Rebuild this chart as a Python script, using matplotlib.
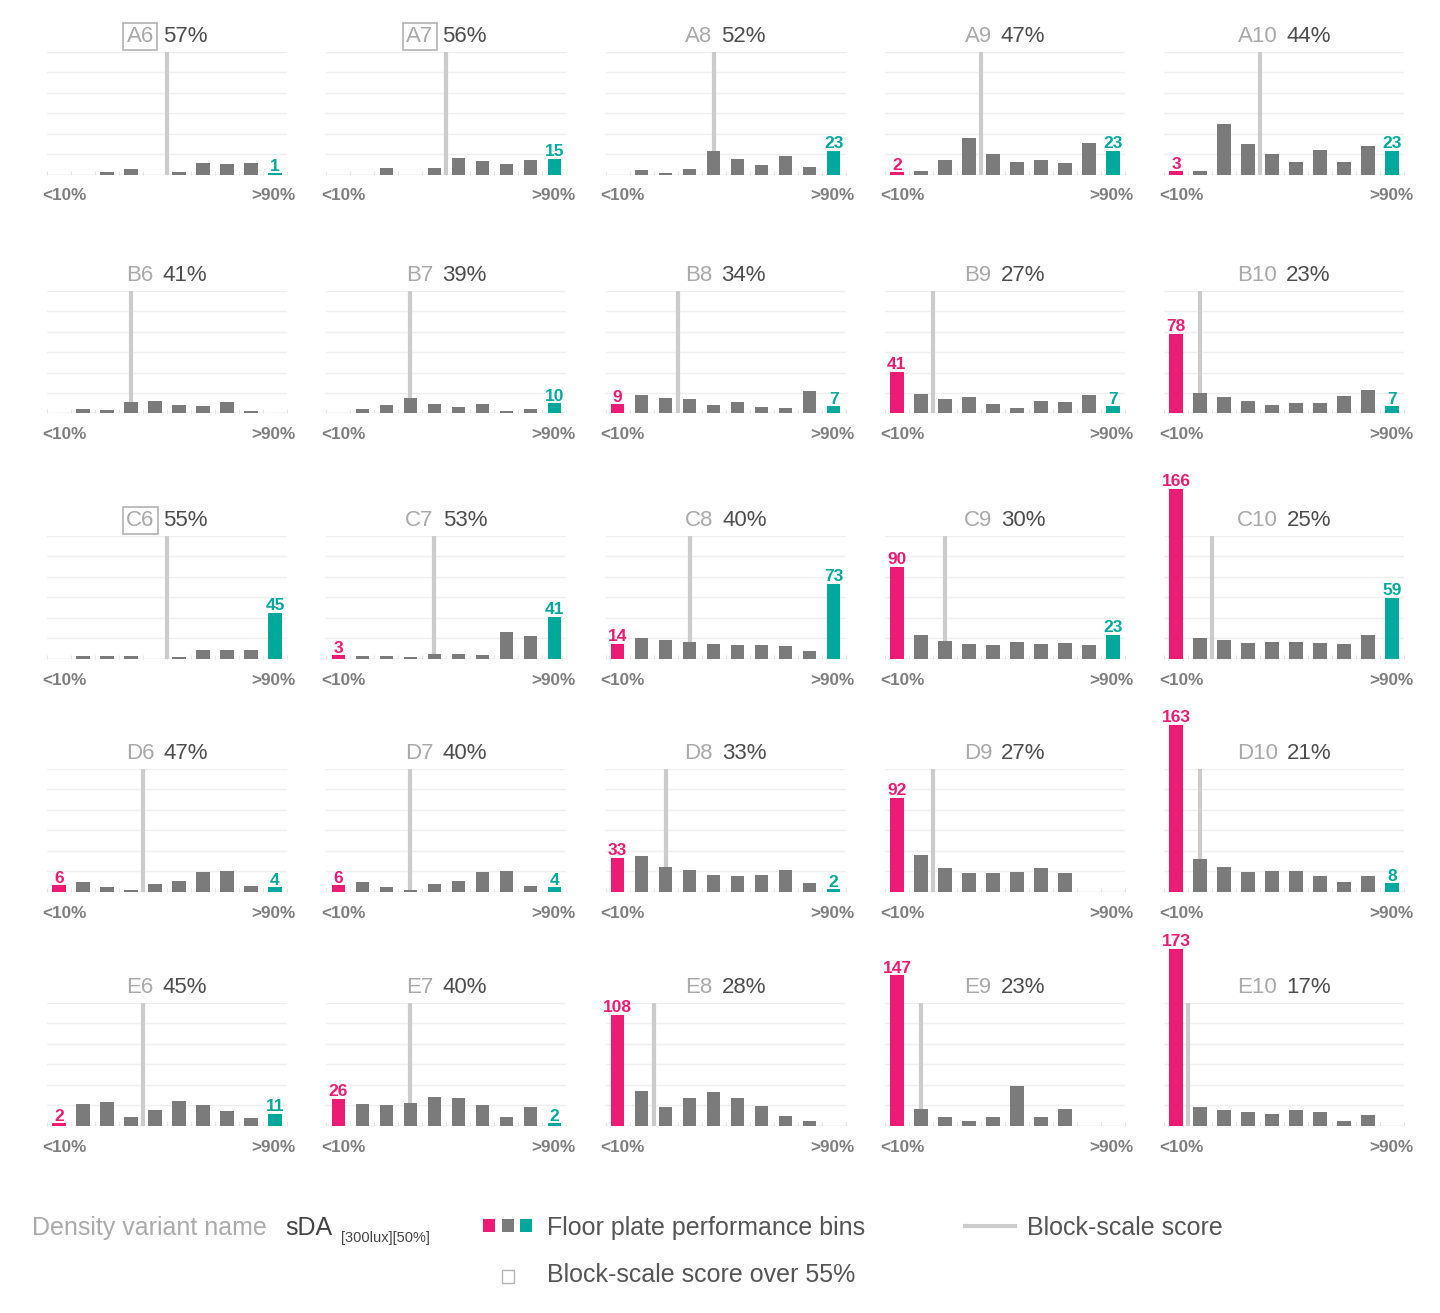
import matplotlib
matplotlib.use('Agg')
import matplotlib.pyplot as plt
from matplotlib.patches import Rectangle
from matplotlib.lines import Line2D
import numpy as np

plt.rcParams['font.family'] = ['Liberation Sans', 'DejaVu Sans']

W, H = 1440, 1313

rows = ['A', 'B', 'C', 'D', 'E']
cols = [6, 7, 8, 9, 10]

# block-scale sDA score of each density variant (%)
scores = [[57, 56, 52, 47, 44],
          [41, 39, 34, 27, 23],
          [55, 53, 40, 30, 25],
          [47, 40, 33, 27, 21],
          [45, 40, 28, 23, 17]]

# number of floor plates per sDA bin: <10%, 10-20%, ... , >90%
bins_A = [[0, 0, 2, 5, 0, 2, 11, 10, 11, 1],
          [0, 0, 6, 0, 6, 16, 13, 10, 14, 15],
          [0, 4, 1, 5, 23, 15, 9, 18, 7, 23],
          [2, 3, 14, 36, 20, 12, 14, 11, 31, 23],
          [3, 3, 49, 30, 20, 12, 24, 12, 28, 23]]
bins_B = [[0, 4, 3, 11, 12, 8, 7, 11, 2, 0],
          [0, 4, 8, 15, 9, 6, 9, 2, 4, 10],
          [9, 18, 15, 14, 8, 11, 6, 5, 22, 7],
          [41, 19, 14, 16, 9, 5, 12, 11, 18, 7],
          [78, 20, 16, 12, 8, 10, 10, 17, 23, 7]]
bins_C = [[0, 2, 2, 2, 0, 1, 8, 8, 8, 45],
          [3, 2, 2, 1, 4, 4, 3, 26, 22, 41],
          [14, 20, 18, 16, 14, 13, 13, 12, 7, 73],
          [90, 23, 17, 14, 13, 16, 14, 15, 13, 23],
          [166, 20, 18, 15, 16, 16, 15, 14, 23, 59]]
bins_D = [[6, 9, 4, 1, 7, 10, 19, 20, 5, 4],
          [6, 9, 4, 1, 7, 10, 19, 20, 5, 4],
          [33, 35, 24, 21, 16, 15, 16, 21, 8, 2],
          [92, 36, 23, 18, 18, 19, 23, 18, 0, 0],
          [163, 32, 24, 19, 20, 20, 15, 9, 15, 8]]
bins_E = [[2, 21, 23, 8, 15, 24, 20, 14, 7, 11],
          [26, 21, 20, 22, 28, 27, 20, 8, 18, 2],
          [108, 34, 18, 27, 33, 27, 19, 9, 4, 0],
          [147, 16, 8, 4, 8, 39, 8, 16, 0, 0],
          [173, 18, 15, 13, 11, 15, 13, 4, 10, 0]]
all_bins = [bins_A, bins_B, bins_C, bins_D, bins_E]

MAGENTA = '#ec1b74'
TEAL = '#00a99c'
GREY = '#7b7b7b'
LINE = '#cbcbcb'

fig = plt.figure(figsize=(W / 100, H / 100), dpi=100)

row_top = [52, 291, 536, 769, 1003]
ax_h = 122.5
ax_w = 240
col_left = [47 + 279.3 * c for c in range(5)]

titles = []
for r, rname in enumerate(rows):
    for c, cnum in enumerate(cols):
        vals = all_bins[r][c]
        score = scores[r][c]
        l = col_left[c]
        t = row_top[r]
        ax = fig.add_axes([l / W, 1 - (t + ax_h) / H, ax_w / W, ax_h / H])
        ax.set_xlim(-0.5, 9.5)
        ax.set_ylim(0, 120)
        for s in ax.spines.values():
            s.set_visible(False)
        ax.set_yticks(range(0, 121, 20))
        ax.yaxis.grid(True, color='#efefef', lw=1)
        ax.set_axisbelow(True)
        ax.tick_params(axis='y', length=0, labelleft=False)
        ax.set_xticks(np.arange(-0.5, 10, 1))
        ax.tick_params(axis='x', length=3, color='#e4e4e4', direction='in', labelbottom=False)
        ax.axhline(0, color='#e2e2e2', lw=1, zorder=1)

        x = np.arange(10)
        colors = [MAGENTA] + [GREY] * 8 + [TEAL]
        # block-scale score marker, snapped to half bins
        pos = np.round((score - 11) / 5) / 2
        ax.vlines(pos, 0, 120, color=LINE, lw=3, zorder=2)
        ax.bar(x, vals, width=0.56, color=colors, lw=0, zorder=3, clip_on=False)

        for i, col in ((0, MAGENTA), (9, TEAL)):
            if vals[i] > 0:
                ax.annotate(str(vals[i]), (i, vals[i]), xytext=(0, 2), textcoords='offset points',
                            ha='center', va='baseline', color=col, fontsize=12.5,
                            fontweight='bold', annotation_clip=False)

        ax.text(-5 / ax_w, -26 / ax_h, '<10%', transform=ax.transAxes, ha='left', va='baseline',
                fontsize=12.3, fontweight='bold', color='#7f7f7f')
        ax.text(1 + 9 / ax_w, -26 / ax_h, '>90%', transform=ax.transAxes, ha='right', va='baseline',
                fontsize=12.3, fontweight='bold', color='#7f7f7f')

        name = f'{rname}{cnum}'
        kw = {}
        if score >= 55:
            kw['bbox'] = dict(boxstyle='square,pad=0.15', fc='none', ec='#b3b3b3', lw=1.2)
        nt = ax.text(0, 1 + 10 / ax_h, name, transform=ax.transAxes, ha='left', va='baseline',
                     fontsize=16, color='#a9a9a9', **kw)
        pt = ax.text(0, 1 + 10 / ax_h, f'{score}%', transform=ax.transAxes, ha='left', va='baseline',
                     fontsize=16, color='#4d4d4d')
        titles.append((ax, nt, pt))

# center "name pct" pairs over each panel
fig.canvas.draw()
rend = fig.canvas.get_renderer()
for ax, nt, pt in titles:
    wn = nt.get_window_extent(rend).width
    wp = pt.get_window_extent(rend).width
    gap = 9
    bb = ax.get_window_extent(rend)
    x0 = bb.x0 + bb.width / 2 - (wn + gap + wp) / 2
    nt.set_x((x0 - bb.x0) / bb.width)
    pt.set_x((x0 + wn + gap - bb.x0) / bb.width)


def fx(v):
    return v / W


def fy(v):
    return 1 - v / H


# legend
fig.text(fx(32), fy(1235), 'Density variant name', fontsize=18, color='#ababab', va='baseline')
fig.text(fx(285), fy(1235), 'sDA', fontsize=18, color='#444444', va='baseline')
fig.text(fx(341), fy(1242), '[300lux][50%]', fontsize=10.5, color='#444444', va='baseline')
for x0, col in ((483, MAGENTA), (502, GREY), (520, TEAL)):
    fig.add_artist(Rectangle((fx(x0), fy(1232)), 12 / W, 13 / H, transform=fig.transFigure,
                             fc=col, ec='none'))
fig.text(fx(547), fy(1235), 'Floor plate performance bins', fontsize=18, color='#555555', va='baseline')
fig.add_artist(Line2D([fx(965), fx(1015)], [fy(1226), fy(1226)], transform=fig.transFigure,
                      color=LINE, lw=3))
fig.text(fx(1027), fy(1235), 'Block-scale score', fontsize=18, color='#555555', va='baseline')
fig.add_artist(Rectangle((fx(502), fy(1283)), 12 / W, 13 / H, transform=fig.transFigure,
                         fc='none', ec='#b3b3b3', lw=1))
fig.text(fx(547), fy(1282), 'Block-scale score over 55%', fontsize=18, color='#555555', va='baseline')

fig.savefig('out.png', dpi=100, facecolor='white')
